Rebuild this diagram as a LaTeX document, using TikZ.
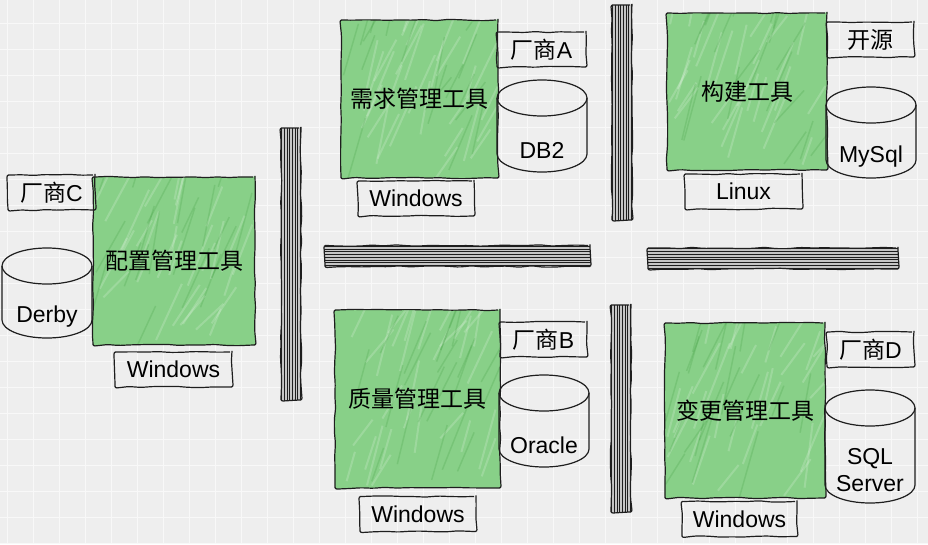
\documentclass[tikz,border=0pt]{standalone}
\usepackage{fontspec}
\setmainfont{Liberation Sans}
\newfontfamily\cjk{Noto Sans CJK SC}
\usetikzlibrary{positioning,calc,decorations.pathmorphing}

\definecolor{toolgreen}{RGB}{136,208,136}
\definecolor{gridbg}{RGB}{238,238,238}
\definecolor{gridline}{RGB}{248,248,248}
\definecolor{inkline}{RGB}{30,30,30}
\newcommand{\labelfont}{\fontsize{23}{27}\selectfont}

\tikzset{
	sketch/.style={draw=inkline, line width=1.2pt, decorate,
		decoration={random steps, segment length=12pt, amplitude=.7pt}, rounded corners=2pt},
	dbline/.style={draw=inkline, line width=1.2pt},
	tool/.style={sketch, fill=toolgreen, inner sep=0pt, font=\cjk\labelfont,
		path picture={\foreach \k in {1,...,30}
			\draw[white, opacity=.18, line width=2pt]
			($(path picture bounding box.south west)+(rnd*150,-rnd*160)$) --++ (8+rnd*20,-25-rnd*40);
			\foreach \k in {1,...,20}
			\draw[green!45!black, opacity=.12, line width=1.5pt]
			($(path picture bounding box.south west)+(rnd*150,-rnd*160)$) --++ (10+rnd*20,-30-rnd*40);}},
	tag/.style={sketch, minimum height=35pt, inner sep=0pt, font=\labelfont},
	dbtext/.style={align=center, inner sep=0pt, font=\labelfont},
	vbar/.style={sketch, fill=gray!45, inner sep=0pt, minimum width=20pt,
		path picture={\foreach \t in {.08,.2,.32,.44,.56,.68,.8,.92}
			\draw[line width=1pt] ($(path picture bounding box.north west)!\t!(path picture bounding box.north east)$)
			-- ($(path picture bounding box.south west)!\t!(path picture bounding box.south east)$);}},
	hbar/.style={sketch, fill=gray!45, inner sep=0pt, minimum height=21pt,
		path picture={\foreach \t in {.08,.2,.32,.44,.56,.68,.8,.92}
			\draw[line width=1pt] ($(path picture bounding box.north west)!\t!(path picture bounding box.south west)$)
			-- ($(path picture bounding box.north east)!\t!(path picture bounding box.south east)$);}}
}

% name, centre x, top, bottom, text
\newcommand{\dbcyl}[5]{%
	\draw[dbline] (#2,#3+18) ellipse[x radius=45, y radius=18];
	\draw[dbline] (#2-45,#3+18) -- (#2-45,#4-18) arc[start angle=180, end angle=0, x radius=45, y radius=18] -- (#2+45,#3+18);
	\node[dbtext] (#1) at (#2,{(#3+#4)/2+24}) {#5};
}

\begin{document}
\begin{tikzpicture}[x=1pt,y=-1pt]
	\pgfmathsetseed{7}
	\useasboundingbox (0,0) rectangle (928,544);
	\fill[gridbg] (0,0) rectangle (928,544);
	\foreach \gx in {7,33,...,927} \draw[gridline, line width=1pt] (\gx,0) -- (\gx,544);
	\foreach \gy in {23,49,...,543} \draw[gridline, line width=1pt] (0,\gy) -- (928,\gy);

	\node[vbar, minimum height=272pt] (sepLeft) at (291,264) {};
	\node[vbar, minimum height=215pt] (sepTop) at (622,112.5) {};
	\node[vbar, minimum height=207pt] (sepBottom) at (621,408.5) {};
	\node[hbar, minimum width=265pt] (sepMid) at (457.5,256) {};
	\node[hbar, minimum width=250pt] (sepRight) at (773,258.5) {};

	\node[tool, minimum width=162pt, minimum height=168pt] (cfgTool) at (174,261) {配置管理工具};
	\node[tag, minimum width=87pt] (vendorC) at (51.5,192.5) {{\cjk 厂商}C};
	\node[tag, minimum width=117pt] (osC) at (173.5,369.5) {Windows};
	\dbcyl{dbC}{47}{248}{338}{Derby}

	\node[tool, minimum width=157pt, minimum height=158pt] (reqTool) at (419.5,99) {需求管理工具};
	\node[tag, minimum width=89pt] (vendorA) at (541.5,49.5) {{\cjk 厂商}A};
	\node[tag, minimum width=116pt] (osA) at (416,198.5) {Windows};
	\dbcyl{dbA}{542}{80}{172}{DB2}

	\node[tool, minimum width=160pt, minimum height=157pt] (buildTool) at (747,91.5) {构建工具};
	\node[tag, minimum width=87pt, font=\cjk\labelfont] (vendorOpen) at (870.5,39.5) {开源};
	\node[tag, minimum width=117pt] (osLinux) at (743.5,191.5) {Linux};
	\dbcyl{dbOpen}{871}{87}{178}{MySql}

	\node[tool, minimum width=165pt, minimum height=178pt] (qaTool) at (417.5,399) {质量管理工具};
	\node[tag, minimum width=87pt] (vendorB) at (543.5,339.5) {{\cjk 厂商}B};
	\node[tag, minimum width=116pt] (osB) at (418,514) {Windows};
	\dbcyl{dbB}{544}{375}{467}{Oracle}

	\node[tool, minimum width=160pt, minimum height=175pt] (chgTool) at (745,410.5) {变更管理工具};
	\node[tag, minimum width=87pt] (vendorD) at (870.5,349.5) {{\cjk 厂商}D};
	\node[tag, minimum width=115pt] (osD) at (739.5,519) {Windows};
	\dbcyl{dbD}{870}{390}{503}{SQL\\Server}
\end{tikzpicture}
\end{document}
